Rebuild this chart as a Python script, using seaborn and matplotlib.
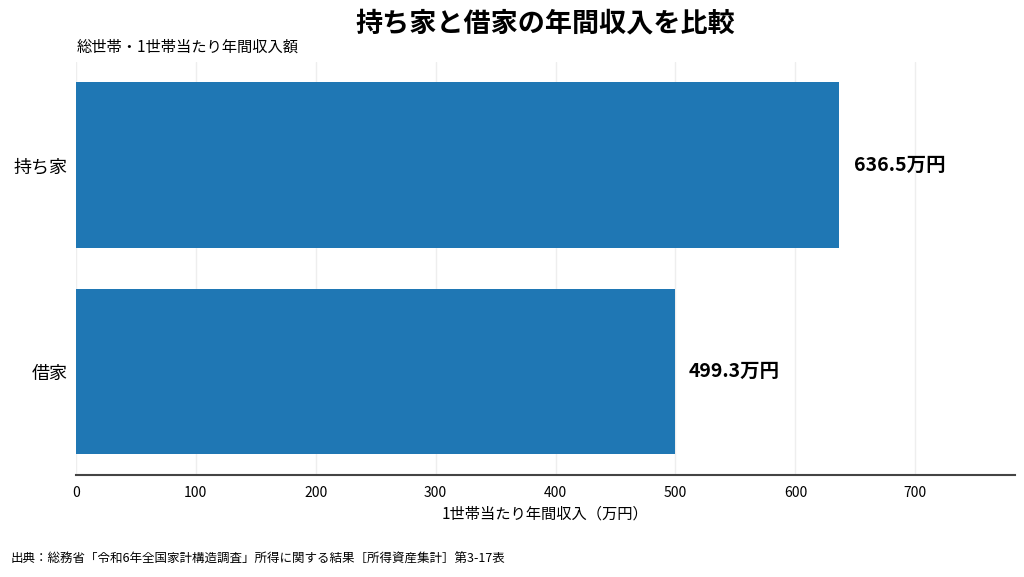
import matplotlib
matplotlib.use("Agg")
import pandas as pd
import seaborn as sns
import matplotlib.pyplot as plt

categories = ["持ち家", "借家"]
income = [636.5, 499.3]
xticks = [0, 100, 200, 300, 400, 500, 600, 700]

sns.set_theme(style="white")
plt.rcParams['font.family'] = ['Noto Sans CJK JP', 'DejaVu Sans']
plt.rcParams['text.color'] = 'black'
plt.rcParams['axes.labelcolor'] = 'black'
plt.rcParams['xtick.color'] = 'black'
plt.rcParams['ytick.color'] = 'black'

df = pd.DataFrame({"category": categories, "income": income})

fig = plt.figure(figsize=(10.24, 5.77), dpi=100)
ax = fig.add_axes([0.074, 0.177, 0.917, 0.716])

sns.barplot(data=df, x="income", y="category", orient="h", color="#1f77b4",
            saturation=1, width=0.8, linewidth=0, ax=ax)

for i, v in enumerate(income):
    ax.text(v + 12, i, f"{v:.1f}万円", va="center", ha="left",
            fontsize=14, fontweight="bold", color="black")

ax.set_xlim(0, max(income) * 1.23)
ax.set_xticks(xticks)
ax.set_xticklabels([str(t) for t in xticks], fontsize=10)
ax.tick_params(axis="x", length=4, width=1, color="#444444", pad=4)
ax.tick_params(axis="y", length=0, labelsize=13, pad=6)
ax.xaxis.grid(True, color="#eeeeee", linewidth=1)
ax.set_axisbelow(True)
for s in ["top", "right", "left"]:
    ax.spines[s].set_visible(False)
ax.spines["bottom"].set_color("#444444")
ax.spines["bottom"].set_linewidth(1.5)

ax.set_xlabel("1世帯当たり年間収入（万円）", fontsize=11)
ax.set_ylabel("")

fig.text(0.533, 0.96, "持ち家と借家の年間収入を比較", ha="center", va="center",
         fontsize=19.5, fontweight="bold")
fig.text(0.075, 0.918, "総世帯・1世帯当たり年間収入額", ha="left", va="center",
         fontsize=11)
fig.text(0.01, 0.03, "出典：総務省「令和6年全国家計構造調査」所得に関する結果［所得資産集計］第3-17表",
         ha="left", va="center", fontsize=9)

fig.savefig("out.png", dpi=100)
